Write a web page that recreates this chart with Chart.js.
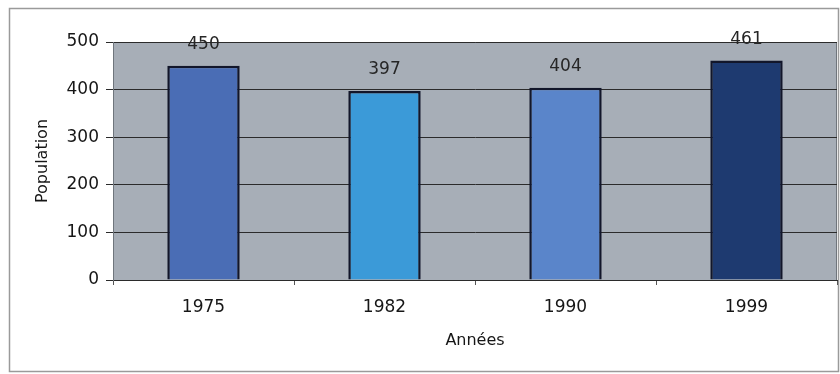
<!DOCTYPE html>
<html>
<head>
<meta charset="utf-8">
<script src="https://cdn.jsdelivr.net/npm/chart.js@4/dist/chart.umd.min.js"></script>
<style>
  html, body { margin: 0; padding: 0; background: #ffffff; }
  #wrap { width: 840px; height: 374px; position: relative; }
</style>
</head>
<body>
<div id="wrap"><canvas id="c" width="840" height="374"></canvas></div>
<script>
// Population by census year
const years = ['1975', '1982', '1990', '1999'];
const population = [450, 397, 404, 461];
const barColors = ['#4a6db5', '#3b9ad8', '#5a85ca', '#1e3a70'];
const yTicks = [0, 100, 200, 300, 400, 500];

const FONT = 'DejaVu Sans, Verdana, sans-serif';
const TEXT = '#161616';

// Grey plot background and the outer frame
const backdrop = {
  id: 'backdrop',
  beforeDraw(chart) {
    const { ctx, chartArea: a } = chart;
    ctx.save();
    ctx.fillStyle = '#ffffff';
    ctx.fillRect(0, 0, chart.width, chart.height);
    ctx.strokeStyle = '#9a9a9a';
    ctx.lineWidth = 1.5;
    ctx.strokeRect(9.5, 8.5, 829, 363);
    ctx.fillStyle = '#a7aeb7';
    ctx.fillRect(a.left, a.top, a.right - a.left, a.bottom - a.top);
    ctx.strokeStyle = '#6f757c';
    ctx.lineWidth = 1;
    ctx.strokeRect(a.left + 0.5, a.top + 0.5, a.right - a.left - 1, a.bottom - a.top);
    ctx.restore();
  }
};

// Value written above each bar
const valueLabels = {
  id: 'valueLabels',
  afterDatasetsDraw(chart) {
    const { ctx } = chart;
    const meta = chart.getDatasetMeta(0);
    ctx.save();
    ctx.font = '17px ' + FONT;
    ctx.fillStyle = '#262626';
    ctx.textAlign = 'center';
    ctx.textBaseline = 'middle';
    meta.data.forEach((bar, i) => {
      ctx.fillText(String(population[i]), bar.x, bar.y - 21);
    });
    ctx.restore();
  }
};

new Chart(document.getElementById('c'), {
  type: 'bar',
  data: {
    labels: years,
    datasets: [{
      data: population,
      backgroundColor: barColors,
      borderColor: '#12162a',
      borderWidth: 2.5,
      barPercentage: 0.4,
      categoryPercentage: 1.0
    }]
  },
  options: {
    responsive: false,
    animation: false,
    devicePixelRatio: 1,
    layout: { padding: { left: 0, top: 42, right: 3, bottom: 0 } },
    plugins: {
      legend: { display: false },
      tooltip: { enabled: false }
    },
    scales: {
      x: {
        afterFit(s) { s.height = 94; },
        grid: {
          offset: true,
          drawOnChartArea: false,
          drawTicks: true,
          tickLength: 5,
          color: '#555555'
        },
        border: { display: true, color: '#2b2b2b', width: 1 },
        ticks: {
          padding: 12,
          color: TEXT,
          font: { family: FONT, size: 17 }
        },
        title: {
          display: true,
          text: 'Années',
          color: TEXT,
          font: { family: FONT, size: 16 },
          padding: { top: 0, bottom: 24 }
        }
      },
      y: {
        min: 0,
        max: 500,
        afterFit(s) { s.width = 113; },
        afterBuildTicks(s) { s.ticks = yTicks.map(v => ({ value: v })); },
        grid: {
          color: '#2b2b2b',
          lineWidth: 1,
          tickLength: 7,
          drawTicks: true
        },
        border: { display: true, color: '#6f757c', width: 1 },
        ticks: {
          padding: 7,
          color: TEXT,
          font: { family: FONT, size: 17 }
        },
        title: {
          display: true,
          text: 'Population',
          color: TEXT,
          font: { family: FONT, size: 16 },
          padding: { top: 33, bottom: 0 }
        }
      }
    }
  },
  plugins: [backdrop, valueLabels]
});
</script>
</body>
</html>
